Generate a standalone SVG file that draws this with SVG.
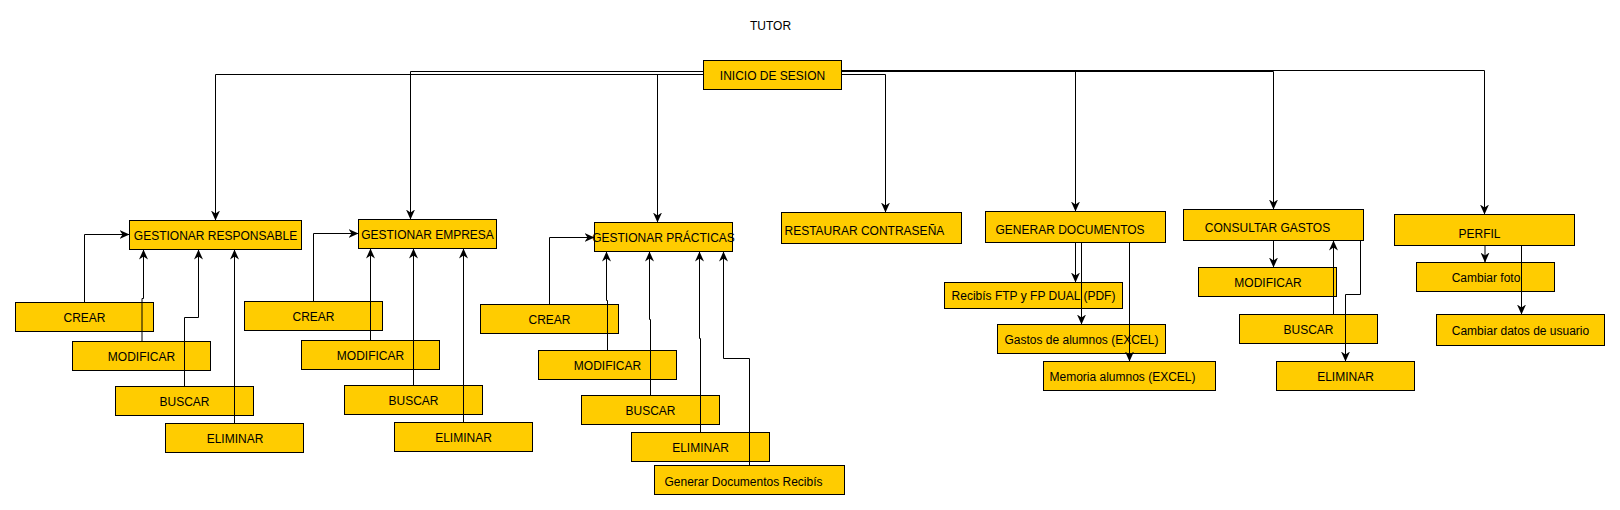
<svg xmlns="http://www.w3.org/2000/svg" width="1620" height="510" viewBox="0 0 1620 510">
<style>
  .n rect { fill: #FFCC00; stroke: #000000; stroke-width: 1; }
  text { font-family: "Liberation Sans", Arial, Helvetica, sans-serif; font-size: 12px; fill: #000000; }
  .c { text-anchor: middle; }
  .s { text-anchor: start; }
  #connectors path { fill: none; stroke: #000000; stroke-width: 1; }
  #connectors path.a { marker-end: url(#arrow); }
</style>
<defs>
  <marker id="arrow" viewBox="0 0 10 9" refX="10" refY="4.5" markerWidth="10" markerHeight="9" markerUnits="userSpaceOnUse" orient="auto">
    <path d="M0,0 L10,4.5 L0,9 L3,4.5 Z" fill="#000000" stroke="none"/>
  </marker>
</defs>
<rect width="1620" height="510" fill="#FFFFFF"/>
<g transform="translate(0.5,0.5)">
  <text id="title" class="c" x="770" y="29">TUTOR</text>

  <g id="inicio" class="n"><rect x="703" y="60" width="138" height="29"/><text class="c" x="772" y="79.5">INICIO DE SESION</text></g>

  <g id="gest-resp" class="n"><rect x="129" y="220" width="172" height="29"/><text class="c" x="215" y="239">GESTIONAR RESPONSABLE</text></g>
  <g id="resp-crear" class="n"><rect x="15" y="302" width="138" height="29"/><text class="c" x="84" y="321">CREAR</text></g>
  <g id="resp-modificar" class="n"><rect x="72" y="341" width="138" height="29"/><text class="c" x="141" y="360">MODIFICAR</text></g>
  <g id="resp-buscar" class="n"><rect x="115" y="386" width="138" height="29"/><text class="c" x="184" y="405">BUSCAR</text></g>
  <g id="resp-eliminar" class="n"><rect x="165" y="423" width="138" height="29"/><text class="c" x="234.5" y="442">ELIMINAR</text></g>

  <g id="gest-emp" class="n"><rect x="358" y="219" width="138" height="29"/><text class="c" x="427" y="238">GESTIONAR EMPRESA</text></g>
  <g id="emp-crear" class="n"><rect x="244" y="301" width="138" height="29"/><text class="c" x="313" y="320">CREAR</text></g>
  <g id="emp-modificar" class="n"><rect x="301" y="340" width="138" height="29"/><text class="c" x="370" y="359">MODIFICAR</text></g>
  <g id="emp-buscar" class="n"><rect x="344" y="385" width="138" height="29"/><text class="c" x="413" y="404">BUSCAR</text></g>
  <g id="emp-eliminar" class="n"><rect x="394" y="422" width="138" height="29"/><text class="c" x="463" y="441">ELIMINAR</text></g>

  <g id="gest-prac" class="n"><rect x="594" y="222" width="138" height="29"/><text class="c" x="663" y="241">GESTIONAR PRÁCTICAS</text></g>
  <g id="prac-crear" class="n"><rect x="480" y="304" width="138" height="29"/><text class="c" x="549" y="323">CREAR</text></g>
  <g id="prac-modificar" class="n"><rect x="538" y="350" width="138" height="29"/><text class="c" x="607" y="369">MODIFICAR</text></g>
  <g id="prac-buscar" class="n"><rect x="581" y="395" width="138" height="29"/><text class="c" x="650" y="414">BUSCAR</text></g>
  <g id="prac-eliminar" class="n"><rect x="631" y="432" width="138" height="29"/><text class="c" x="700" y="451">ELIMINAR</text></g>
  <g id="prac-generar" class="n"><rect x="654" y="465" width="190" height="29"/><text class="c" x="743" y="485">Generar Documentos Recibís</text></g>

  <g id="restaurar" class="n"><rect x="781" y="212" width="180" height="31"/><text class="s" x="784" y="234">RESTAURAR CONTRASEÑA</text></g>

  <g id="generar-doc" class="n"><rect x="985" y="211" width="180" height="31"/><text class="s" x="995" y="233">GENERAR DOCUMENTOS</text></g>
  <g id="doc-recibis" class="n"><rect x="944" y="282" width="178" height="26"/><text class="c" x="1033" y="299">Recibís FTP y FP DUAL (PDF)</text></g>
  <g id="doc-gastos" class="n"><rect x="997" y="324" width="168" height="29"/><text class="c" x="1081" y="343">Gastos de alumnos (EXCEL)</text></g>
  <g id="doc-memoria" class="n"><rect x="1043" y="361" width="172" height="29"/><text class="c" x="1122" y="380">Memoria alumnos (EXCEL)</text></g>

  <g id="consultar" class="n"><rect x="1183" y="209" width="180" height="31"/><text class="c" x="1267" y="231.5">CONSULTAR GASTOS</text></g>
  <g id="cons-modificar" class="n"><rect x="1198" y="267" width="138" height="29"/><text class="c" x="1267.5" y="286">MODIFICAR</text></g>
  <g id="cons-buscar" class="n"><rect x="1239" y="314" width="138" height="29"/><text class="c" x="1308" y="333.5">BUSCAR</text></g>
  <g id="cons-eliminar" class="n"><rect x="1276" y="361" width="138" height="29"/><text class="c" x="1345" y="380.5">ELIMINAR</text></g>

  <g id="perfil" class="n"><rect x="1394" y="214" width="180" height="31"/><text class="c" x="1479" y="237.5">PERFIL</text></g>
  <g id="perfil-foto" class="n"><rect x="1416" y="262" width="138" height="29"/><text class="c" x="1485.5" y="281">Cambiar foto</text></g>
  <g id="perfil-datos" class="n"><rect x="1436" y="314" width="168" height="31"/><text class="c" x="1520" y="334">Cambiar datos de usuario</text></g>

  <g id="connectors">
    <path class="a" d="M703,74 H215 V220"/>
    <path class="a" d="M703,71 H410 V219"/>
    <path class="a" d="M703,74 H657 V222"/>
    <path class="a" d="M841,74 H885 V212"/>
    <path class="a" d="M841,71 H1075 V211"/>
    <path class="a" d="M841,71 H1273 V209"/>
    <path class="a" d="M841,70 H1484 V214"/>

    <path class="a" d="M84,302 V234 H129"/>
    <path class="a" d="M141.5,341 V298 H143 V249"/>
    <path class="a" d="M184,386 V317 H198 V249"/>
    <path class="a" d="M234,423 V249"/>

    <path class="a" d="M313,301 V233 H358"/>
    <path class="a" d="M370,340 V248"/>
    <path class="a" d="M413,385 V248"/>
    <path class="a" d="M463,422 V248"/>

    <path class="a" d="M549,304 V237 H594"/>
    <path class="a" d="M607,350 V300 H606 V251"/>
    <path class="a" d="M650,395 V319 H649 V251"/>
    <path class="a" d="M700,432 V338 H699 V251"/>
    <path class="a" d="M749,465 V358 H723 V251"/>

    <path class="a" d="M1075,242 V282"/>
    <path class="a" d="M1081,242 V324"/>
    <path class="a" d="M1129,242 V361"/>

    <path class="a" d="M1273,240 V267"/>
    <path class="a" d="M1333,314 V240"/>
    <path class="a" d="M1360,240 V294 H1345 V361"/>

    <path class="a" d="M1484.5,245 V262"/>
    <path class="a" d="M1521,245 V314"/>
  </g>
</g>
</svg>
